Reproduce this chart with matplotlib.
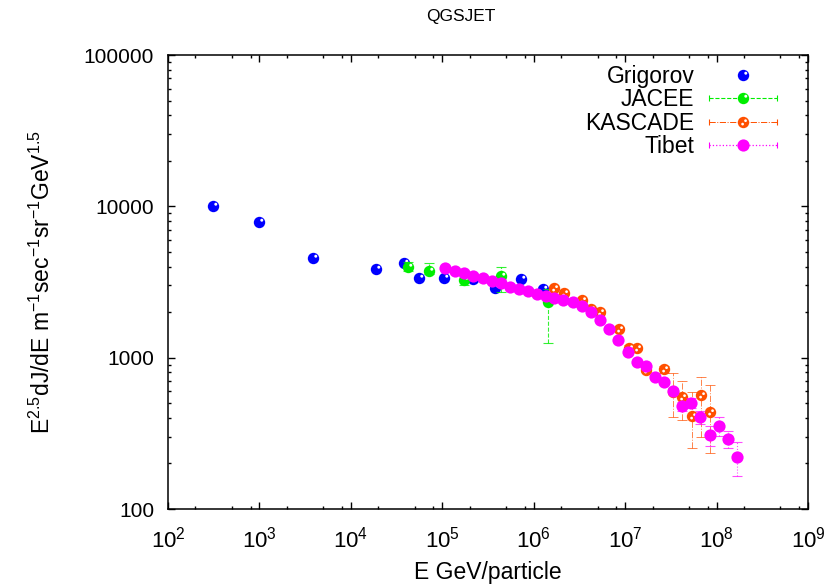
"""QGSJET: all-particle spectrum E^2.5 dJ/dE against energy, four data sets."""

import matplotlib

matplotlib.use("Agg")

import matplotlib.pyplot as plt
from matplotlib.legend_handler import HandlerLine2D, HandlerTuple
from matplotlib.lines import Line2D
from matplotlib.path import Path
from matplotlib.ticker import FuncFormatter, LogFormatterMathtext, LogLocator

plt.rcParams["font.family"] = ["Liberation Sans", "DejaVu Sans"]
plt.rcParams["mathtext.fontset"] = "custom"
plt.rcParams["mathtext.rm"] = "Liberation Sans"
plt.rcParams["mathtext.it"] = "Liberation Sans:italic"
plt.rcParams["mathtext.bf"] = "Liberation Sans:bold"

# energies in GeV/particle, flux in E^2.5 dJ/dE units
GRIGOROV_E = [313, 990, 3830, 18800, 37800, 55200, 104000, 215000, 374000, 731000, 1250000]
GRIGOROV_FLUX = [10040, 7830, 4550, 3870, 4200, 3370, 3370, 3290, 2870, 3300, 2840]

JACEE_E = [42200, 72100, 172000, 435000, 1420000]
JACEE_FLUX = [3970, 3750, 3260, 3470, 2345]
JACEE_ERR_LO = [250, 200, 250, 750, 1090]
JACEE_ERR_HI = [300, 450, 300, 520, 495]

KASCADE_E = [1.667e6, 2.128e6, 3.396e6, 4.24e6, 5.35e6, 8.49e6, 1.089e7, 1.349e7,
             1.67e7, 2.67e7, 3.34e7, 4.22e7, 5.32e7, 6.70e7, 8.48e7]
KASCADE_FLUX = [2870, 2660, 2400, 2090, 1995, 1556, 1166, 1157,
                834, 837, 590, 547, 414, 569, 439]
KASCADE_ERR_LO = [60, 55, 50, 45, 45, 40, 40, 40, 35, 45, 185, 161, 161, 270, 205]
KASCADE_ERR_HI = [60, 55, 50, 45, 45, 40, 40, 40, 35, 45, 200, 150, 179, 176, 222]

TIBET_E = [1.079e5, 1.367e5, 1.727e5, 2.183e5, 2.766e5, 3.497e5, 4.357e5, 5.505e5,
           6.857e5, 8.597e5, 1.079e6, 1.353e6, 1.679e6, 2.108e6, 2.669e6, 3.348e6,
           4.234e6, 5.313e6, 6.71e6, 8.42e6, 1.066e7, 1.337e7, 1.678e7, 2.12e7,
           2.66e7, 3.34e7, 4.19e7, 5.29e7, 6.64e7, 8.37e7, 1.054e8, 1.323e8, 1.66e8]
TIBET_FLUX = [3930, 3750, 3610, 3480, 3340, 3220, 3100, 2940,
              2840, 2760, 2630, 2550, 2490, 2400, 2330, 2200,
              1990, 1770, 1540, 1310, 1095, 942, 882, 742,
              691, 602, 479, 503, 407, 307, 353, 290, 221]
TIBET_ERR = [40, 40, 40, 35, 35, 35, 35, 30,
             30, 30, 30, 30, 30, 30, 30, 30,
             25, 25, 25, 25, 20, 20, 20, 20,
             25, 28, 32, 38, 40, 45, 50, 38, 55]

BLUE = "#0000ff"
GREEN = "#00ee00"
ORANGE = "#ff5000"
MAGENTA = "#ff00ff"


def dots_marker(centres, radius):
    # white shine spots on the balls; a lone MOVETO keeps the marker box fixed
    verts = [(-0.5, -0.5)]
    codes = [Path.MOVETO]
    for cx, cy in centres:
        circ = Path.circle((cx, cy), radius)
        verts.extend(circ.vertices.tolist())
        codes.extend(circ.codes.tolist())
    return Path(verts, codes)


SHINE = dots_marker([(0.2, 0.2)], 0.13)
SHINE_KASCADE = dots_marker([(0.18, 0.16), (-0.08, -0.14)], 0.12)


class KeyWithCaps(HandlerLine2D):
    """Line sample with little end bars, the way gnuplot draws an error-bar key."""

    def create_artists(self, legend, orig_handle, xdescent, ydescent, width, height, fontsize, trans):
        artists = super().create_artists(legend, orig_handle, xdescent, ydescent,
                                         width, height, fontsize, trans)
        xdata, _ = self.get_xdata(legend, xdescent, ydescent, width, height, fontsize)
        y = (height - ydescent) / 2
        caps = Line2D([xdata[0], xdata[-1]], [y, y], linestyle="none", marker="|",
                      markersize=5, markeredgewidth=0.8, color=orig_handle.get_color())
        caps.set_transform(trans)
        return artists + [caps]


fig = plt.figure(figsize=(8.25, 5.84), dpi=100)
ax = fig.add_axes([0.2036, 0.1284, 0.7758, 0.7774])

ms = 8.2

ax.plot(GRIGOROV_E, GRIGOROV_FLUX, linestyle="none", marker="o", ms=ms, color=BLUE,
        markeredgewidth=0, zorder=3)
ax.plot(GRIGOROV_E, GRIGOROV_FLUX, linestyle="none", marker=SHINE, ms=ms, color="white",
        markeredgewidth=0, zorder=3.1)

eb = ax.errorbar(JACEE_E, JACEE_FLUX, yerr=[JACEE_ERR_LO, JACEE_ERR_HI], fmt="none",
                 ecolor=GREEN, elinewidth=0.8, capsize=3.5, capthick=0.8, zorder=3.5, alpha=0.8)
eb[2][0].set_linestyle("--")
ax.plot(JACEE_E, JACEE_FLUX, linestyle="none", marker="o", ms=ms, color=GREEN,
        markeredgewidth=0, zorder=4)
ax.plot(JACEE_E, JACEE_FLUX, linestyle="none", marker=SHINE, ms=ms, color="white",
        markeredgewidth=0, zorder=4.1)

eb = ax.errorbar(KASCADE_E, KASCADE_FLUX, yerr=[KASCADE_ERR_LO, KASCADE_ERR_HI], fmt="none",
                 ecolor=ORANGE, elinewidth=0.7, capsize=3.5, capthick=0.7, zorder=4.5, alpha=0.7)
eb[2][0].set_linestyle("-.")
ax.plot(KASCADE_E, KASCADE_FLUX, linestyle="none", marker="o", ms=ms, color=ORANGE,
        markeredgewidth=0, zorder=5)
ax.plot(KASCADE_E, KASCADE_FLUX, linestyle="none", marker=SHINE_KASCADE, ms=ms, color="white",
        markeredgewidth=0, zorder=5.1)

eb = ax.errorbar(TIBET_E, TIBET_FLUX, yerr=TIBET_ERR, fmt="none", ecolor=MAGENTA,
                 elinewidth=0.8, capsize=3.5, capthick=0.8, zorder=5.5, alpha=0.7)
eb[2][0].set_linestyle(":")
ax.plot(TIBET_E, TIBET_FLUX, linestyle="none", marker="o", ms=ms + 0.6, color=MAGENTA,
        markeredgewidth=0, zorder=6)

ax.set_xscale("log")
ax.set_yscale("log")
ax.set_xlim(1e2, 1e9)
ax.set_ylim(1e2, 1e5)

ax.xaxis.set_major_locator(LogLocator(base=10, numticks=20))
ax.xaxis.set_minor_locator(LogLocator(base=10, subs=(2, 5, 8), numticks=20))
ax.xaxis.set_major_formatter(LogFormatterMathtext())
ax.yaxis.set_major_locator(LogLocator(base=10, numticks=20))
ax.yaxis.set_minor_locator(LogLocator(base=10, subs=range(2, 10), numticks=20))
ax.yaxis.set_major_formatter(FuncFormatter(lambda v, _: f"{v:.0f}"))

ax.tick_params(which="both", direction="in", top=True, right=True, width=1.0, labelsize=15)
ax.tick_params(which="major", length=5)
ax.tick_params(which="minor", length=2.5)
ax.tick_params(axis="y", pad=10)
ax.tick_params(axis="x", pad=13, labelsize=16)
for spine in ax.spines.values():
    spine.set_linewidth(1.1)

ax.set_xlabel("E GeV/particle", fontsize=16.5, labelpad=6)
ax.set_ylabel(r"E$^{2.5}$dJ/dE m$^{-1}$sec$^{-1}$sr$^{-1}$GeV$^{1.5}$", fontsize=16.5, labelpad=21)
fig.text(0.559, 0.972, "QGSJET", fontsize=12.5, ha="center", va="center")

# legend proxies: text on the left, sample on the right
p_gri = Line2D([], [], linestyle="none", marker="o", ms=ms, color=BLUE, markeredgewidth=0)
s_gri = Line2D([], [], linestyle="none", marker=SHINE, ms=ms, color="white", markeredgewidth=0)
p_jac = Line2D([], [], linestyle="--", linewidth=0.8, marker="o", ms=ms, color=GREEN, markeredgewidth=0)
s_jac = Line2D([], [], linestyle="none", marker=SHINE, ms=ms, color="white", markeredgewidth=0)
p_kas = Line2D([], [], linestyle="-.", linewidth=0.7, marker="o", ms=ms, color=ORANGE, markeredgewidth=0)
s_kas = Line2D([], [], linestyle="none", marker=SHINE_KASCADE, ms=ms, color="white", markeredgewidth=0)
p_tib = Line2D([], [], linestyle=":", linewidth=0.9, marker="o", ms=ms + 0.6, color=MAGENTA, markeredgewidth=0)

handler_map = {tuple: HandlerTuple(ndivide=1, pad=0),
               p_jac: KeyWithCaps(), p_kas: KeyWithCaps(), p_tib: KeyWithCaps()}
ax.legend([(p_gri, s_gri), (p_jac, s_jac), (p_kas, s_kas), p_tib],
          ["Grigorov", "JACEE", "KASCADE", "Tibet"],
          handler_map=handler_map, loc="upper right", bbox_to_anchor=(0.952, 0.978),
          frameon=False, markerfirst=False, fontsize=16.5, handlelength=3.0,
          handletextpad=0.62, labelspacing=0.02, borderpad=0, borderaxespad=0,
          numpoints=1)

fig.savefig("out.png", dpi=100)
